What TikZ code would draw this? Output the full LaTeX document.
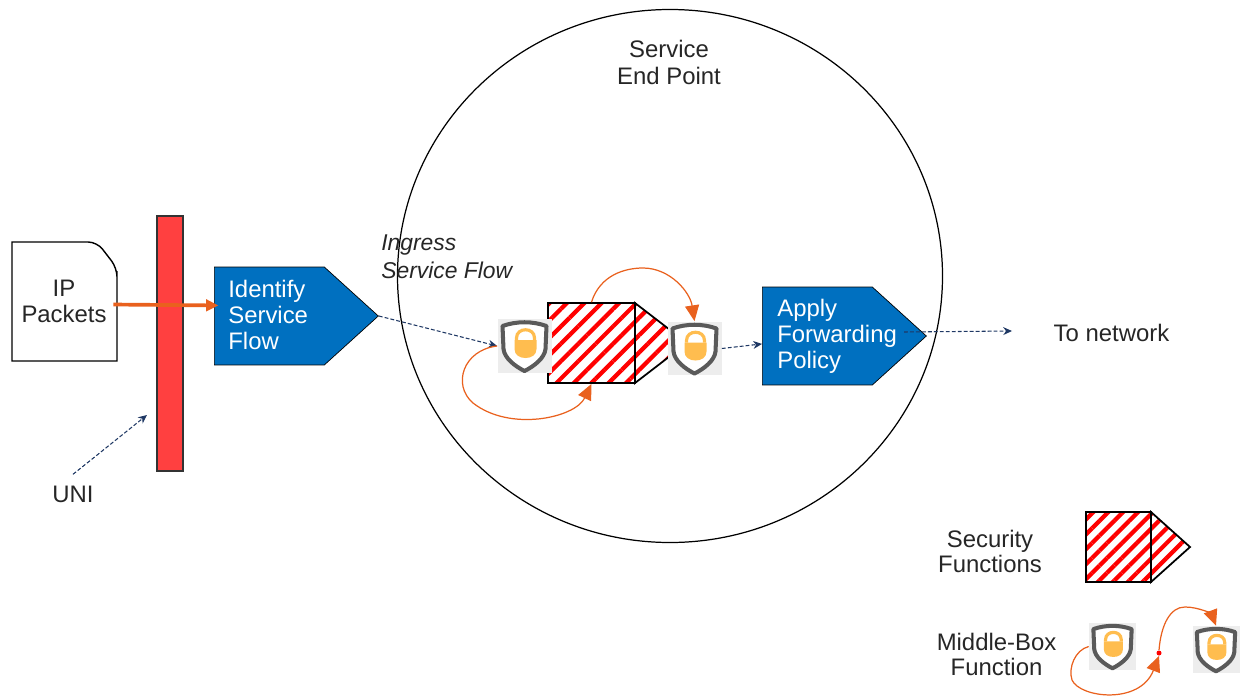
\documentclass[tikz,border=0pt]{standalone}
\usepackage{fontspec}
\setmainfont{Liberation Sans}
\usepackage{tikz}
\usetikzlibrary{arrows.meta,patterns.meta,shapes.symbols}

\definecolor{flowblue}{HTML}{0070C0}
\definecolor{dashblue}{HTML}{1F3864}
\definecolor{curveorange}{HTML}{E9611E}
\definecolor{barred}{HTML}{FF4040}
\definecolor{lockyellow}{HTML}{FFBD4F}
\definecolor{shieldgray}{HTML}{5A5A5A}
\definecolor{textgray}{HTML}{262626}

\begin{document}
\begin{tikzpicture}[x=0.02cm,y=-0.02cm,
        every node/.style = {font=\fontsize{13.6}{14.7}\selectfont,text=textgray},
        label/.style = {align=center,inner sep=0pt},
        flow/.style = {signal,signal to=east,signal pointer angle=84.4,
            draw=black,fill=flowblue,anchor=west,
            minimum width=3.28cm,minimum height=1.96cm,inner sep=0pt},
        flowtext/.style = {align=left,inner sep=0pt,anchor=west,text=white},
        hatch/.style = {draw=black,line width=1pt,preaction={fill=white},
            pattern={Lines[angle=45,distance=#1,line width=2.4pt]},pattern color=red},
        hatch/.default = 7pt,
        lockbox/.style = {fill=black!7,inner sep=0pt,minimum size=#1},
        dashline/.style = {dashed,dash pattern=on 2.2pt off 1.2pt,draw=dashblue,
            line width=0.6pt,-{Stealth[length=5pt,width=4.5pt]}},
        curve/.style = {draw=curveorange,line width=0.7pt,
            -{Stealth[length=9pt,width=8pt,inset=0pt]}},
        lockshield/.pic = {
            \draw[shieldgray,line width=2.3pt,fill=white,line join=round]
                (-22,-20) .. controls (-8,-25) and (8,-25) .. (22,-20)
                -- (21,3) .. controls (20,12) and (10,20) .. (0,25)
                .. controls (-10,20) and (-20,12) .. (-21,3) -- cycle;
            \draw[lockyellow,line width=1.8pt] (-8,-6) -- (-8,-8)
                .. controls (-8,-19) and (10,-19) .. (10,-8) -- (10,-6);
            \fill[lockyellow] (-10,-6) -- (12,-6) -- (12,3)
                .. controls (12,9) and (7,12) .. (1,12)
                .. controls (-5,12) and (-10,9) .. (-10,3) -- cycle;
        }]

    % Margins of the page
    \useasboundingbox (0,0) rectangle (1243,696);

    % Service end point
    \draw[line width=0.7pt] (670,276) ellipse (272.5 and 266.5);
    \node[label,font=\fontsize{13.6}{15.3}\selectfont] (endpoint) at (669,62.5) {Service\\End Point};

    % IP packets and UNI bar
    \draw[line width=0.8pt] (12,242) [rounded corners=5pt] -- (97,242) -- (117,268) -- (117,280)
        [sharp corners] -- (117,361) -- (12,361) -- cycle;
    \node[label,minimum width=2.1cm,minimum height=2.38cm] (packets) at (64,301) {IP\\Packets};
    \node[draw=black!80,fill=barred,line width=0.8pt,inner sep=0pt,minimum width=0.52cm,minimum height=5.1cm] (uni) at (170,343.5) {};
    \node[label] (unilabel) at (73,494) {UNI};
    \coordinate (unitip) at (147,415);

    % Flow blocks
    \node[flow] (identify) at (214,316) {};
    \node[flowtext] (identifytext) at (228,315) {Identify\\Service\\Flow};
    \node[flow] (apply) at (762,336) {};
    \node[flowtext] (applytext) at (777,336.5) {Apply\\Forwarding\\Policy};
    \node[label,align=left,anchor=west,font=\fontsize{13}{15.8}\itshape] (ingress) at (381,257) {Ingress\\Service Flow};

    % Security function, middle boxes on top
    \draw[hatch] (635,303) -- (687,343) -- (635,383) -- cycle;
    \node[hatch,inner sep=0pt,minimum width=1.74cm,minimum height=1.6cm] (secfunc) at (591.5,343) {};
    \node[lockbox=1.08cm] (mbone) at (524.5,346) {};
    \pic at (mbone) {lockshield};
    \node[lockbox=1.08cm] (mbtwo) at (694.5,348.5) {};
    \pic at (mbtwo) {lockshield};

    % To network
    \node[label] (network) at (1111.5,333) {To network};
    \coordinate (netfrom) at (904,332);
    \coordinate (netto) at (1012,331);

    % Dashed connectors
    \draw[dashline] (unilabel.north) ++(0,-11) -- (unitip);
    \draw[dashline] (identify.east) -- (mbone.west);
    \draw[dashline] (mbtwo.east) -- ([yshift=-4.5pt]apply.west);
    \draw[dashline] (netfrom) -- (netto);

    % Orange connectors
    \draw[curveorange,line width=2.1pt,-{Stealth[length=7pt,width=6.5pt,inset=0pt]}]
        ([xshift=-2pt,yshift=-2pt]packets.east) -- ([xshift=2.5pt,yshift=6pt]identify.west);
    \draw[curve] (mbone.west) .. controls (463,350) and (452,385) .. (473,403)
        .. controls (510,432) and (575,418) .. (secfunc.south);
    \draw[curve] (secfunc.north) .. controls (600,275) and (625,268) .. (643,268)
        .. controls (670,268) and (690,292) .. (mbtwo.north);

    % Legend
    \draw[hatch=6pt] (1151,512) -- (1190,547) -- (1151,582) -- cycle;
    \node[hatch=6pt,inner sep=0pt,minimum width=1.3cm,minimum height=1.4cm] (legendsec) at (1118.5,547) {};
    \node[label,font=\fontsize{13.6}{14.2}\selectfont] (seclabel) at (990,551) {Security\\Functions};
    \node[lockbox=0.94cm] (legendone) at (1112.5,646.5) {};
    \pic[scale=0.87] at (legendone) {lockshield};
    \node[lockbox=0.94cm] (legendtwo) at (1216,649.5) {};
    \pic[scale=0.87] at (legendtwo) {lockshield};
    \node[label,font=\fontsize{13.6}{14.2}\selectfont] (mblabel) at (996.5,654.5) {Middle-Box\\Function};
    \node[circle,fill=red,inner sep=0pt,minimum size=0.1cm] (legenddot) at (1159,653) {};
    \draw[curve] (legendone.west) .. controls (1075,650) and (1068,668) .. (1072,680)
        .. controls (1080,698) and (1140,705) .. (legenddot.south);
    \draw[curve] (legenddot.north) .. controls (1161,625) and (1170,607) .. (1185,607)
        .. controls (1200,607) and (1212,615) .. (legendtwo.north);

\end{tikzpicture}
\end{document}
